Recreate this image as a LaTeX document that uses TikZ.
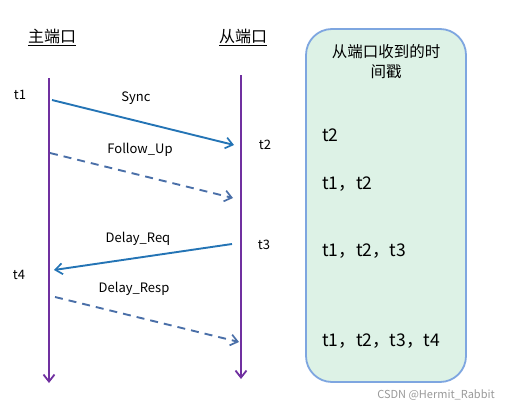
\documentclass[tikz,border=0pt]{standalone}
\usepackage{fontspec}
\setmainfont{Noto Sans CJK SC}
\usetikzlibrary{arrows.meta}
\definecolor{life}{HTML}{7030A0}
\definecolor{msg}{HTML}{2474B5}
\definecolor{dmsg}{HTML}{4A6FA8}
\definecolor{boxfill}{HTML}{DDF2E6}
\definecolor{boxline}{HTML}{7EA6E0}
\tikzset{
  lifeline/.style={draw=life, line width=2pt, -{Straight Barb[length=7pt,width=11pt,line width=1.8pt]}},
  solidmsg/.style={draw=msg, line width=1.9pt, -{Straight Barb[length=7pt,width=11pt,line width=1.7pt]}},
  dashmsg/.style={draw=dmsg, line width=1.9pt, dash pattern=on 8pt off 6pt, -{Straight Barb[length=7pt,width=11pt,line width=1.7pt]}},
  lbl/.style={font=\fontsize{13}{15}\selectfont, inner sep=0pt},
  hdr/.style={font=\fontsize{16}{18}\selectfont, inner sep=0pt},
  stamp/.style={font=\fontsize{17.5}{19}\selectfont, inner sep=0pt, anchor=west},
}
\begin{document}
\begin{tikzpicture}[x=1pt,y=-1pt]
\useasboundingbox (0,0) rectangle (513,412);
% headers
\node[hdr] (hm) at (52,37) {\underline{主端口}};
\node[hdr] (hs) at (243,37) {\underline{从端口}};
% lifelines
\coordinate (mtop) at (49,78);
\coordinate (mbot) at (49,383);
\coordinate (stop) at (241,75);
\coordinate (sbot) at (241,379);
\draw[lifeline] (mtop) -- (mbot);
\draw[lifeline] (stop) -- (sbot);
% time labels
\node[lbl] (t1) at (20,95) {t1};
\node[lbl] (t2) at (265,145) {t2};
\node[lbl] (t3) at (264,245) {t3};
\node[lbl] (t4) at (19,275) {t4};
% messages
\coordinate (a1) at (52,100);  \coordinate (b1) at (234,145);
\coordinate (a2) at (50,153);  \coordinate (b2) at (233,198);
\coordinate (a3) at (232,244); \coordinate (b3) at (54,270);
\coordinate (a4) at (55,297);  \coordinate (b4) at (239,342);
\draw[solidmsg] (a1) -- (b1);
\draw[dashmsg] (a2) -- (b2);
\draw[solidmsg] (a3) -- (b3);
\draw[dashmsg] (a4) -- (b4);
\node[lbl] (l1) at (136,98) {Sync};
\node[lbl] (l2) at (140,150) {Follow\_Up};
\node[lbl] (l3) at (138,239) {Delay\_Req};
\node[lbl] (l4) at (134,289) {Delay\_Resp};
% box
\draw[draw=boxline, fill=boxfill, line width=1.8pt, rounded corners=26pt] (306,29) rectangle (466,382);
\node[align=center, inner sep=0pt, font=\fontsize{15.5}{20}\selectfont] (bt) at (386,62) {从端口收到的时\\间戳};
\node[stamp] (s1) at (322,135) {t2};
\node[stamp] (s2) at (322,184) {t1，t2};
\node[stamp] (s3) at (322,251) {t1，t2，t3};
\node[stamp] (s4) at (322,341) {t1，t2，t3，t4};
% watermark
\node[font=\fontsize{11}{13}\selectfont, text=gray!80, inner sep=0pt] (wm) at (436,395) {CSDN @Hermit\_Rabbit};
\end{tikzpicture}
\end{document}
